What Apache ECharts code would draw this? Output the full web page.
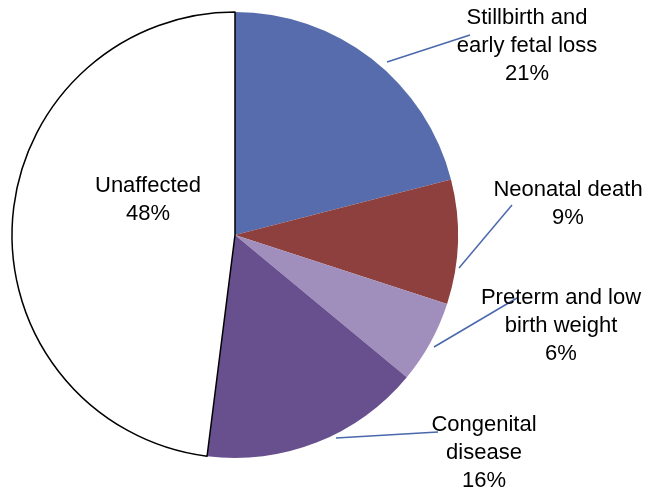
<!DOCTYPE html>
<html>
<head>
<meta charset="utf-8">
<script src="https://cdn.jsdelivr.net/npm/echarts@6/dist/echarts.min.js"></script>
<style>html,body{margin:0;padding:0;background:#fff;}#c{width:653px;height:494px;}</style>
</head>
<body>
<div id="c"></div>
<script>
const categories = ['Stillbirth and\nearly fetal loss', 'Neonatal death', 'Preterm and low\nbirth weight', 'Congenital\ndisease', 'Unaffected'];
const values = [21, 9, 6, 16, 48];
const colors = ['#566CAC', '#8E403F', '#A08FBC', '#684F8E', '#FFFFFF'];

// label placement (text centre) and leader line ends
const labelPos = [[527, 46], [568, 204], [561, 326], [484, 453], [148, 200]];
const linePts = [
  [[387, 62], [470, 35]],
  [[459, 268], [512, 205]],
  [[434, 347], [517, 298]],
  [[336, 438], [438, 432]],
  null
];

const chart = echarts.init(document.getElementById('c'));
chart.setOption({
  animation: false,
  series: [{
    type: 'pie',
    center: [235, 235],
    radius: 223,
    startAngle: 90,
    clockwise: true,
    avoidLabelOverlap: false,
    label: {
      show: true,
      position: 'outside',
      formatter: p => p.name + '\n' + p.value + '%',
      color: '#000',
      fontFamily: 'Liberation Sans, Arial, sans-serif',
      fontSize: 22,
      lineHeight: 28,
      align: 'center'
    },
    labelLine: { show: true, lineStyle: { color: '#4A68AC', width: 1.5 } },
    labelLayout: function (params) {
      const i = params.dataIndex;
      const o = { x: labelPos[i][0], y: labelPos[i][1], align: 'center', verticalAlign: 'middle' };
      if (linePts[i]) {
        const a = linePts[i][0], b = linePts[i][1];
        o.labelLinePoints = [a, [(a[0] + b[0]) / 2, (a[1] + b[1]) / 2], b];
      }
      return o;
    },
    data: categories.map((c, i) => {
      const d = { name: c, value: values[i], itemStyle: { color: colors[i], borderWidth: 0 } };
      if (i === 4) {
        d.itemStyle = { color: colors[i], borderColor: '#000', borderWidth: 1.5 };
        d.label = { position: 'inside' };
        d.labelLine = { show: false };
      }
      return d;
    })
  }]
});
</script>
</body>
</html>
